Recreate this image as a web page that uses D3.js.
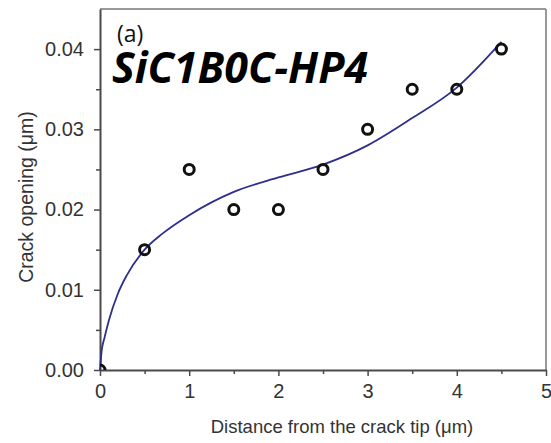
<!DOCTYPE html>
<html>
<head>
<meta charset="utf-8">
<script src="https://cdn.jsdelivr.net/npm/d3@7"></script>
<style>
  body { margin: 0; background: #fff; }
  svg { display: block; }
</style>
</head>
<body>
<div id="chart"></div>
<script>
// measured points
var distX = [0, 0.5, 1, 1.5, 2, 2.5, 3, 3.5, 4, 4.5];
var openingY = [0, 0.015, 0.025, 0.02, 0.02, 0.025, 0.03, 0.035, 0.035, 0.04];

// fitted curve
var fitX = [0, 0.02, 0.05, 0.1, 0.2, 0.3, 0.5, 0.7, 1.0, 1.5, 2.0, 2.5, 3.0, 3.5, 4.0, 4.5];
var fitY = [0, 0.0025, 0.004, 0.0062, 0.0095, 0.0118, 0.015, 0.017, 0.0193, 0.0222, 0.024, 0.0256, 0.028, 0.0314, 0.0352, 0.0409];

var xTicks = [0, 1, 2, 3, 4, 5];
var yTicks = [0, 0.01, 0.02, 0.03, 0.04];

var W = 551, H = 443;
var margin = {top: 9, right: 5, bottom: 73, left: 100},
    width = W - margin.left - margin.right,
    height = H - margin.top - margin.bottom;

var svg = d3.select("#chart").append("svg")
    .attr("width", W)
    .attr("height", H)
    .style("font-family", "Liberation Sans, Arial, sans-serif");

var g = svg.append("g")
    .attr("transform", "translate(" + margin.left + "," + margin.top + ")");

var x = d3.scaleLinear().domain([0, 5]).range([0, width]);
var y = d3.scaleLinear().domain([0, 0.045]).range([height, 0]);

var axisCol = "#4a4a4a";

g.append("clipPath").attr("id", "plotclip")
  .append("rect").attr("width", width).attr("height", height);

// frame top and right
g.append("line").attr("x1", 0).attr("x2", width).attr("y1", 0).attr("y2", 0)
    .attr("stroke", "#777").attr("stroke-width", 1.5);
g.append("line").attr("x1", width).attr("x2", width).attr("y1", 0).attr("y2", height)
    .attr("stroke", "#777").attr("stroke-width", 1.5);

// minor ticks
var xMinor = d3.range(0.5, 5, 1);
var yMinor = d3.range(0.005, 0.045, 0.01);

var xAxis = g.append("g")
    .attr("transform", "translate(0," + height + ")")
    .call(d3.axisBottom(x).tickValues(xTicks).tickFormat(d3.format("d")).tickSize(6).tickPadding(8).tickSizeOuter(0));
g.append("g")
    .attr("transform", "translate(0," + height + ")")
    .call(d3.axisBottom(x).tickValues(xMinor).tickFormat("").tickSize(4).tickSizeOuter(0))
    .select(".domain").remove();

var yAxis = g.append("g")
    .call(d3.axisLeft(y).tickValues(yTicks).tickFormat(d3.format(".2f")).tickSize(6).tickPadding(10).tickSizeOuter(0));
g.append("g")
    .call(d3.axisLeft(y).tickValues(yMinor).tickFormat("").tickSize(4).tickSizeOuter(0))
    .select(".domain").remove();

g.selectAll(".domain").attr("stroke", axisCol).attr("stroke-width", 2);
g.selectAll(".tick line").attr("stroke", axisCol).attr("stroke-width", 1.5);
g.selectAll(".tick text").attr("fill", "#333").style("font-size", "20px");

// fit line
var line = d3.line()
    .x(function(d, i) { return x(fitX[i]); })
    .y(function(d) { return y(d); })
    .curve(d3.curveMonotoneX);

g.append("path")
    .datum(fitY)
    .attr("d", line)
    .attr("fill", "none")
    .attr("stroke", "#2e2e8c")
    .attr("stroke-width", 1.8);

// points
g.append("g")
    .attr("clip-path", "url(#plotclip)")
  .selectAll(".pt")
    .data(openingY)
    .enter().append("circle")
    .attr("class", "pt")
    .attr("cx", function(d, i) { return x(distX[i]); })
    .attr("cy", function(d) { return y(d); })
    .attr("r", 5)
    .attr("fill", "none")
    .attr("stroke", "#111")
    .attr("stroke-width", 3);

// axis titles
svg.append("text")
    .attr("x", 342)
    .attr("y", 433)
    .attr("text-anchor", "middle")
    .attr("fill", "#333")
    .style("font-size", "18.5px")
    .text("Distance from the crack tip (\u03bcm)");

svg.append("text")
    .attr("transform", "translate(33,197) rotate(-90)")
    .attr("text-anchor", "middle")
    .attr("fill", "#333")
    .style("font-size", "19.5px")
    .text("Crack opening (\u03bcm)");

// labels
svg.append("text")
    .attr("x", 117)
    .attr("y", 42)
    .attr("fill", "#111")
    .style("font-family", "Open Sans, sans-serif")
    .style("font-size", "23px")
    .text("(a)");

svg.append("text")
    .attr("x", 112)
    .attr("y", 83)
    .attr("fill", "#000")
    .style("font-family", "Open Sans, sans-serif")
    .style("font-weight", "bold")
    .style("font-style", "italic")
    .style("font-size", "43px")
    .text("SiC1B0C-HP4");
</script>
</body>
</html>
